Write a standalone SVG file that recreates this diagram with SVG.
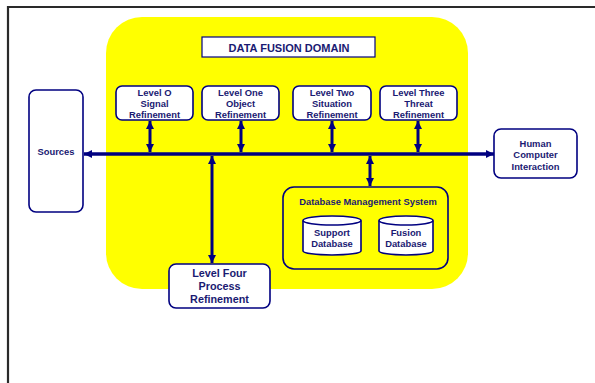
<svg xmlns="http://www.w3.org/2000/svg" width="595" height="383" viewBox="0 0 595 383">
<style>
.box{fill:#fff;stroke:#000080;stroke-width:1.6}
.t{font-family:"Liberation Sans",Arial,sans-serif;font-weight:bold;fill:#1a1a72;text-anchor:middle;font-size:9.4px}
.con{stroke:#000080;stroke-width:3;fill:none}
</style>
<defs>
<marker id="ah" markerUnits="userSpaceOnUse" markerWidth="9" markerHeight="9" refX="8" refY="4.5" orient="auto-start-reverse" viewBox="0 0 9 9">
<path d="M0,0.5 L8,4.5 L0,8.5 z" fill="#000080"/>
</marker>
</defs>
<rect width="595" height="383" fill="#fff"/>
<path d="M8,383 V7 H595" fill="none" stroke="#2a2a2a" stroke-width="2.2"/>
<g id="domain">
<rect x="106" y="17" width="362" height="272" rx="36" fill="#ffff00"/>
<rect x="202" y="37" width="173" height="20" fill="#fff" stroke="#000080" stroke-width="1.2"/>
<text class="t" x="289" y="52" style="font-size:11px">DATA FUSION DOMAIN</text>
</g>
<g id="level0">
<rect class="box" x="116" y="86" width="77" height="34" rx="6"/>
<text class="t" x="154.5" y="95.5">Level O</text>
<text class="t" x="154.5" y="107">Signal</text>
<text class="t" x="154.5" y="118">Refinement</text>
</g>
<g id="level1">
<rect class="box" x="202" y="86" width="77" height="34" rx="6"/>
<text class="t" x="240.5" y="95.5">Level One</text>
<text class="t" x="240.5" y="107">Object</text>
<text class="t" x="240.5" y="118">Refinement</text>
</g>
<g id="level2">
<rect class="box" x="293" y="86" width="78" height="34" rx="6"/>
<text class="t" x="332" y="95.5">Level Two</text>
<text class="t" x="332" y="107">Situation</text>
<text class="t" x="332" y="118">Refinement</text>
</g>
<g id="level3">
<rect class="box" x="380" y="86" width="77" height="34" rx="6"/>
<text class="t" x="418.5" y="95.5">Level Three</text>
<text class="t" x="418.5" y="107">Threat</text>
<text class="t" x="418.5" y="118">Refinement</text>
</g>
<g id="sources">
<rect class="box" x="29" y="90" width="54" height="122" rx="7"/>
<text class="t" x="56" y="155">Sources</text>
</g>
<g id="hci">
<rect class="box" x="494" y="129" width="83" height="49" rx="7"/>
<text class="t" x="535.5" y="146.5">Human</text>
<text class="t" x="535.5" y="158">Computer</text>
<text class="t" x="535.5" y="169.5">Interaction</text>
</g>
<g id="level4">
<rect class="box" x="169" y="264" width="101" height="44" rx="7"/>
<text class="t" x="219.5" y="277" style="font-size:10.8px">Level Four</text>
<text class="t" x="219.5" y="290" style="font-size:10.8px">Process</text>
<text class="t" x="219.5" y="302.5" style="font-size:10.8px">Refinement</text>
</g>
<g id="dbms">
<rect class="box" x="283" y="187" width="165" height="82" rx="11" style="fill:#ffff00"/>
<text class="t" x="368" y="205">Database Management System</text>
</g>
<g id="supportdb">
<path class="box" d="M303,220.5 V251 A29,4 0 0 0 361,251 V220.5"/>
<ellipse class="box" cx="332" cy="220.5" rx="29" ry="4.5"/>
<text class="t" x="332" y="235.5">Support</text>
<text class="t" x="332" y="247">Database</text>
</g>
<g id="fusiondb">
<path class="box" d="M379,220.5 V251 A27,4 0 0 0 433,251 V220.5"/>
<ellipse class="box" cx="406" cy="220.5" rx="27" ry="4.5"/>
<text class="t" x="406" y="235.5">Fusion</text>
<text class="t" x="406" y="247">Database</text>
</g>
<g id="connectors">
<line class="con" x1="84" y1="154" x2="494" y2="154" style="stroke-width:3.5" marker-start="url(#ah)" marker-end="url(#ah)"/>
<line class="con" x1="150" y1="121" x2="150" y2="152" marker-start="url(#ah)" marker-end="url(#ah)"/>
<line class="con" x1="241" y1="121" x2="241" y2="152" marker-start="url(#ah)" marker-end="url(#ah)"/>
<line class="con" x1="332" y1="121" x2="332" y2="152" marker-start="url(#ah)" marker-end="url(#ah)"/>
<line class="con" x1="418" y1="121" x2="418" y2="152" marker-start="url(#ah)" marker-end="url(#ah)"/>
<line class="con" x1="212" y1="156" x2="212" y2="263" marker-start="url(#ah)" marker-end="url(#ah)"/>
<line class="con" x1="370" y1="156" x2="370" y2="186" marker-start="url(#ah)" marker-end="url(#ah)"/>
</g>
</svg>
